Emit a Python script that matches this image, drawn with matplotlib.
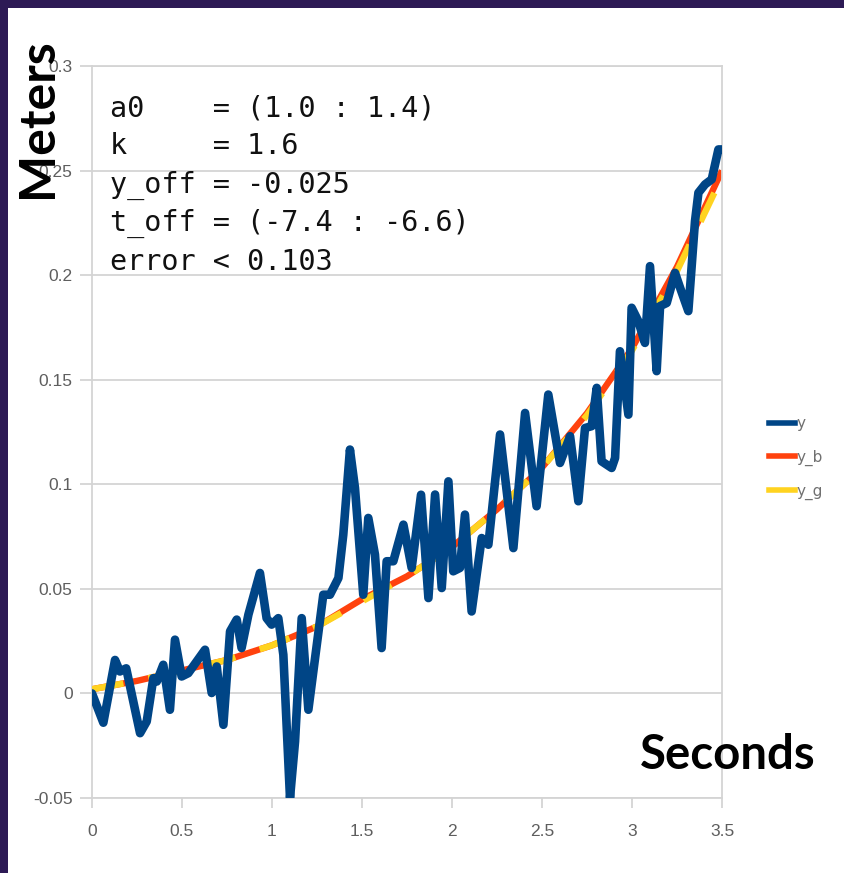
import matplotlib
matplotlib.use("Agg")
from matplotlib import pyplot as plt, patches
from matplotlib.lines import Line2D

# measured position (blue)
t_y = [0.0, 0.063, 0.128, 0.155, 0.19, 0.267, 0.304, 0.341, 0.36, 0.396,
       0.433, 0.461, 0.498, 0.535, 0.628, 0.665, 0.693, 0.73, 0.767, 0.804,
       0.831, 0.869, 0.933, 0.97, 0.998, 1.035, 1.063, 1.1, 1.128, 1.165,
       1.202, 1.285, 1.322, 1.369, 1.396, 1.433, 1.461, 1.507, 1.535, 1.572,
       1.609, 1.637, 1.674, 1.73, 1.776, 1.828, 1.869, 1.906, 1.943, 1.98,
       2.007, 2.044, 2.072, 2.109, 2.165, 2.202, 2.267, 2.341, 2.406, 2.47,
       2.535, 2.6, 2.656, 2.702, 2.739, 2.776, 2.804, 2.831, 2.887, 2.906,
       2.933, 2.98, 2.998, 3.035, 3.072, 3.1, 3.137, 3.156, 3.193, 3.239,
       3.267, 3.313, 3.35, 3.369, 3.406, 3.443, 3.48, 3.498]
y = [0.0, -0.014, 0.016, 0.0105, 0.012, -0.019, -0.0134, 0.0073, 0.0057, 0.0137,
     -0.0078, 0.0257, 0.0081, 0.0097, 0.0209, 0.0002, 0.0129, -0.015, 0.0297, 0.0353,
     0.0217, 0.0377, 0.0576, 0.036, 0.0329, 0.036, 0.0185, -0.050, -0.023, 0.036,
     -0.0078, 0.0472, 0.0472, 0.0552, 0.0759, 0.1166, 0.0982, 0.0472, 0.0839, 0.0664,
     0.0217, 0.0632, 0.0632, 0.0807, 0.060, 0.095, 0.0456, 0.0951, 0.0504, 0.1014,
     0.0584, 0.060, 0.0855, 0.0392, 0.0743, 0.0711, 0.1238, 0.0695, 0.1341, 0.0895,
     0.1429, 0.1102, 0.123, 0.0919, 0.1269, 0.1278, 0.1461, 0.111, 0.1078, 0.1126,
     0.1636, 0.1333, 0.1844, 0.178, 0.1676, 0.2043, 0.1541, 0.1852, 0.1867, 0.2011,
     0.194, 0.1828, 0.2258, 0.2394, 0.2434, 0.2458, 0.2601, 0.2601]

# fitted curves
t_fit = [0.0, 0.25, 0.5, 0.75, 1.0, 1.25, 1.5, 1.75, 2.0, 2.25, 2.5, 2.75, 3.0, 3.25, 3.5]
y_b = [0.002, 0.006, 0.011, 0.016, 0.023, 0.032, 0.045, 0.056, 0.070, 0.088, 0.108, 0.134, 0.165, 0.204, 0.250]
y_g = [0.002, 0.006, 0.011, 0.016, 0.023, 0.032, 0.044, 0.056, 0.070, 0.088, 0.108, 0.133, 0.164, 0.202, 0.247]

labels = ["y", "y_b", "y_g"]
colors = ["#004586", "#ff420e", "#ffd320"]

info_lines = ["a0    = (1.0 : 1.4)",
              "k     = 1.6",
              "y_off = -0.025",
              "t_off = (-7.4 : -6.6)",
              "error < 0.103"]

xticks = [0, 0.5, 1, 1.5, 2, 2.5, 3, 3.5]
xtick_labels = ["0", "0.5", "1", "1.5", "2", "2.5", "3", "3.5"]
yticks = [-0.05, 0, 0.05, 0.1, 0.15, 0.2, 0.25, 0.3]
ytick_labels = ["-0.05", "0", "0.05", "0.1", "0.15", "0.2", "0.25", "0.3"]


def main():
    fig = plt.figure(figsize=(8.45, 8.73), dpi=100)
    fig.patch.set_facecolor("white")

    # dark slide frame on top and left
    fig.patches.append(patches.Rectangle((0, 1 - 8 / 873), 1, 8 / 873, transform=fig.transFigure,
                                         facecolor="#2d1a55", edgecolor="none", zorder=0))
    fig.patches.append(patches.Rectangle((0, 0), 8 / 845, 1, transform=fig.transFigure,
                                         facecolor="#2d1a55", edgecolor="none", zorder=0))

    ax = fig.add_axes([92 / 845, 75 / 873, 630 / 845, 732 / 873])
    ax.set_xlim(0, 3.5)
    ax.set_ylim(-0.05, 0.3)

    ax.plot(t_fit, y_b, color=colors[1], lw=4.6, solid_capstyle="butt", zorder=2)
    ax.plot(t_fit, y_g, color=colors[2], lw=4.6, dashes=(5, 4), zorder=3)
    ax.plot(t_y, y, color=colors[0], lw=6.2, solid_joinstyle="round", solid_capstyle="round", zorder=4)

    ax.set_xticks(xticks)
    ax.set_xticklabels(xtick_labels)
    ax.set_yticks(yticks)
    ax.set_yticklabels(ytick_labels)
    ax.grid(axis="y", color="#d4d4d4", lw=1.3)
    for s in ax.spines.values():
        s.set_color("#d4d4d4")
        s.set_linewidth(1.3)
    ax.tick_params(axis="both", colors="#d4d4d4", labelcolor="#5e5e5e", labelsize=12.5, width=1.3)
    ax.tick_params(axis="y", length=9, pad=5)
    ax.tick_params(axis="x", length=7, pad=12)
    for lab in ax.get_xticklabels() + ax.get_yticklabels():
        lab.set_family("Liberation Sans")

    for i, line in enumerate(info_lines):
        ax.text(18 / 630, (798 - (108 + 38.5 * i)) / 732, line, transform=ax.transAxes,
                family="DejaVu Sans Mono", fontsize=20.5, va="center", ha="left", color="#111111")

    handles = [Line2D([], [], color=c, lw=4) for c in colors]
    fig.legend(handles, labels, loc="center left", bbox_to_anchor=(755 / 845, 1 - 458 / 873),
               frameon=False, fontsize=11, labelcolor="#707070", handlelength=1.7,
               handletextpad=0.1, labelspacing=1.2)

    fig.text(37 / 845, 1 - 118 / 873, "Meters", rotation=90, family="Lato", fontweight="bold",
             fontsize=36, ha="center", va="center", color="black")
    fig.text(728 / 845, 1 - 755 / 873, "Seconds", family="Lato", fontweight="bold",
             fontsize=34, ha="center", va="center", color="black")

    fig.savefig("out.png", dpi=100)


if __name__ == "__main__":
    main()
